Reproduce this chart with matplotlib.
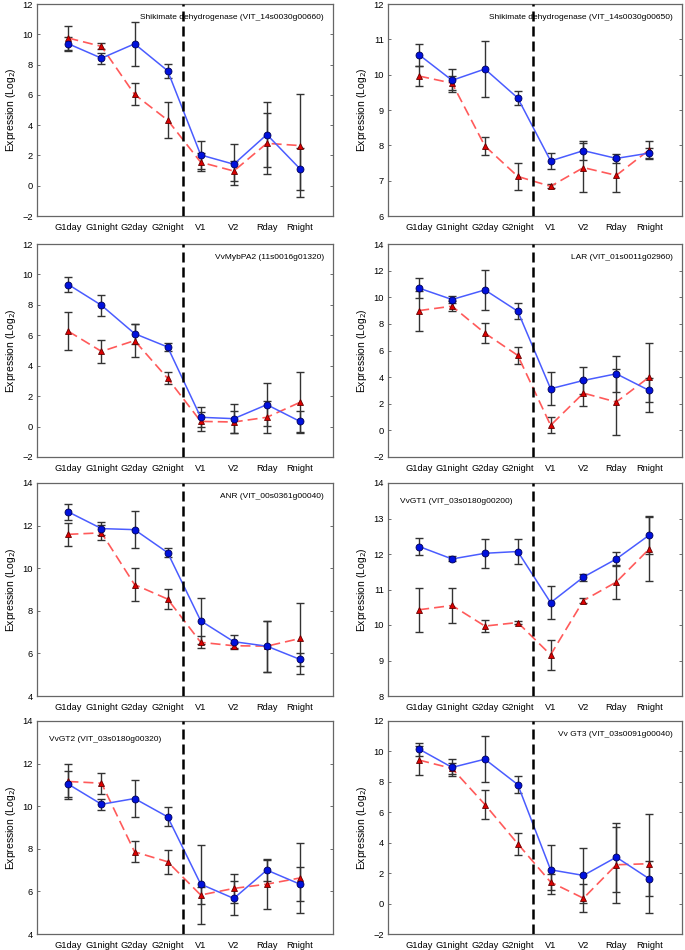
import matplotlib
matplotlib.use("Agg")
import matplotlib.pyplot as plt

plt.rcParams['font.family'] = ['Liberation Sans', 'DejaVu Sans']

categories = ["G1day", "G1night", "G2day", "G2night", "V1", "V2", "Rday", "Rnight"]

# Panel 1: Shikimate dehydrogenase (VIT_14s0030g00660)
p1_title = "Shikimate dehydrogenase (VIT_14s0030g00660)"
p1_blue = [9.37, 8.42, 9.37, 7.59, 2.03, 1.42, 3.38, 1.12]
p1_blue_err = [0.45, 0.35, 1.46, 0.46, 0.9, 1.35, 2.15, 1.4]
p1_red = [9.75, 9.2, 6.03, 4.33, 1.55, 0.97, 2.8, 2.65]
p1_red_err = [0.8, 0.2, 0.73, 1.18, 0.6, 0.65, 2.0, 3.4]
p1_ylim = (-2, 12)
p1_yticks = [-2, 0, 2, 4, 6, 8, 10, 12]

# Panel 2: Shikimate dehydrogenase (VIT_14s0030g00650)
p2_title = "Shikimate dehydrogenase (VIT_14s0030g00650)"
p2_blue = [10.56, 9.84, 10.16, 9.34, 7.56, 7.85, 7.63, 7.78]
p2_blue_err = [0.32, 0.33, 0.78, 0.19, 0.23, 0.27, 0.12, 0.15]
p2_red = [9.96, 9.76, 7.98, 7.12, 6.84, 7.37, 7.15, 7.87]
p2_red_err = [0.28, 0.2, 0.26, 0.39, 0.06, 0.7, 0.47, 0.25]
p2_ylim = (6, 12)
p2_yticks = [6, 7, 8, 9, 10, 11, 12]

# Panel 3: VvMybPA2 (11s0016g01320)
p3_title = "VvMybPA2 (11s0016g01320)"
p3_blue = [9.33, 7.97, 6.11, 5.23, 0.61, 0.52, 1.44, 0.34]
p3_blue_err = [0.5, 0.7, 0.65, 0.25, 0.65, 0.95, 1.4, 0.7]
p3_red = [6.26, 4.94, 5.65, 3.17, 0.34, 0.3, 0.61, 1.59]
p3_red_err = [1.24, 0.73, 1.1, 0.4, 0.6, 0.75, 1.05, 2.0]
p3_ylim = (-2, 12)
p3_yticks = [-2, 0, 2, 4, 6, 8, 10, 12]

# Panel 4: LAR (VIT_01s0011g02960)
p4_title = "LAR (VIT_01s0011g02960)"
p4_blue = [10.68, 9.83, 10.55, 8.95, 3.13, 3.75, 4.25, 3.0]
p4_blue_err = [0.77, 0.25, 1.5, 0.6, 1.23, 1.0, 1.35, 0.9]
p4_red = [9.0, 9.33, 7.3, 5.63, 0.38, 2.8, 2.13, 4.0]
p4_red_err = [1.5, 0.4, 0.75, 0.65, 0.6, 0.95, 2.45, 2.6]
p4_ylim = (-2, 14)
p4_yticks = [-2, 0, 2, 4, 6, 8, 10, 12, 14]

# Panel 5: ANR (VIT_00s0361g00040)
p5_title = "ANR (VIT_00s0361g00040)"
p5_blue = [12.64, 11.86, 11.81, 10.73, 7.53, 6.55, 6.34, 5.72]
p5_blue_err = [0.37, 0.3, 0.88, 0.2, 1.08, 0.3, 1.2, 0.3]
p5_red = [11.59, 11.66, 9.23, 8.55, 6.52, 6.36, 6.34, 6.7]
p5_red_err = [0.55, 0.35, 0.78, 0.47, 0.28, 0.15, 1.2, 1.68]
p5_ylim = (4, 14)
p5_yticks = [4, 6, 8, 10, 12, 14]

# Panel 6: VvGT1 (VIT_03s0180g00200)
p6_title = "VvGT1 (VIT_03s0180g00200)"
p6_blue = [12.21, 11.86, 12.02, 12.07, 10.63, 11.35, 11.86, 12.53]
p6_blue_err = [0.23, 0.07, 0.41, 0.36, 0.47, 0.1, 0.2, 0.53]
p6_red = [10.43, 10.55, 9.97, 10.07, 9.16, 10.69, 11.21, 12.14]
p6_red_err = [0.62, 0.48, 0.18, 0.03, 0.42, 0.06, 0.47, 0.9]
p6_ylim = (8, 14)
p6_yticks = [8, 9, 10, 11, 12, 13, 14]

# Panel 7: VvGT2 (VIT_03s0180g00320)
p7_title = "VvGT2 (VIT_03s0180g00320)"
p7_blue = [11.03, 10.09, 10.36, 9.5, 6.34, 5.67, 7.0, 6.34]
p7_blue_err = [0.6, 0.25, 0.89, 0.45, 1.85, 0.8, 0.53, 0.79]
p7_red = [11.16, 11.08, 7.86, 7.39, 5.83, 6.14, 6.34, 6.63]
p7_red_err = [0.8, 0.5, 0.5, 0.55, 0.4, 0.7, 1.15, 1.66]
p7_ylim = (4, 14)
p7_yticks = [4, 6, 8, 10, 12, 14]

# Panel 8: Vv GT3 (VIT_03s0091g00040)
p8_title = "Vv GT3 (VIT_03s0091g00040)"
p8_blue = [10.15, 8.95, 9.49, 7.82, 2.22, 1.85, 3.05, 1.63]
p8_blue_err = [0.43, 0.58, 1.5, 0.55, 1.6, 1.83, 2.27, 1.15]
p8_red = [9.43, 8.88, 6.51, 3.93, 1.41, 0.35, 2.55, 2.62]
p8_red_err = [0.95, 0.35, 0.97, 0.73, 0.55, 0.93, 2.5, 3.25]
p8_ylim = (-2, 12)
p8_yticks = [-2, 0, 2, 4, 6, 8, 10, 12]

panels = [
    (p1_title, p1_blue, p1_blue_err, p1_red, p1_red_err, p1_ylim, p1_yticks, "right"),
    (p2_title, p2_blue, p2_blue_err, p2_red, p2_red_err, p2_ylim, p2_yticks, "right"),
    (p3_title, p3_blue, p3_blue_err, p3_red, p3_red_err, p3_ylim, p3_yticks, "right"),
    (p4_title, p4_blue, p4_blue_err, p4_red, p4_red_err, p4_ylim, p4_yticks, "right"),
    (p5_title, p5_blue, p5_blue_err, p5_red, p5_red_err, p5_ylim, p5_yticks, "right"),
    (p6_title, p6_blue, p6_blue_err, p6_red, p6_red_err, p6_ylim, p6_yticks, "left"),
    (p7_title, p7_blue, p7_blue_err, p7_red, p7_red_err, p7_ylim, p7_yticks, "left"),
    (p8_title, p8_blue, p8_blue_err, p8_red, p8_red_err, p8_ylim, p8_yticks, "right"),
]

W, H = 685, 950
fig = plt.figure(figsize=(W / 100, H / 100), dpi=100)

col_lr = [(37, 333), (388, 682)]
row_tb = [(4, 216), (244, 457), (483, 696), (721, 934)]

x = list(range(1, len(categories) + 1))

for i, (title, bm, be, rm, re, ylim, yticks, align) in enumerate(panels):
    r, c = divmod(i, 2)
    l, rr = col_lr[c]
    t, b = row_tb[r]
    ax = fig.add_axes([l / W, 1 - b / H, (rr - l) / W, (b - t) / H])

    ax.errorbar(x, rm, yerr=re, fmt='none', ecolor='#333333', elinewidth=1.0,
                capsize=3, capthick=1.0, zorder=2)
    ax.errorbar(x, bm, yerr=be, fmt='none', ecolor='#333333', elinewidth=1.0,
                capsize=3, capthick=1.0, zorder=2)
    ax.plot(x, rm, color='#ff5a5a', linestyle=(0, (6, 3)), linewidth=1.2, zorder=3)
    ax.plot(x, rm, linestyle='none', marker='^', markersize=5,
            markerfacecolor='#dd0000', markeredgecolor='#660000',
            markeredgewidth=0.6, zorder=4)
    ax.plot(x, bm, color='#4a5cff', linestyle='-', linewidth=1.1, zorder=3)
    ax.plot(x, bm, linestyle='none', marker='o', markersize=5,
            markerfacecolor='#0011dd', markeredgecolor='#000055',
            markeredgewidth=0.6, zorder=5)

    ax.axvline(4.45, color='black', linestyle=(0, (4, 2)), linewidth=1.8, zorder=6)

    ax.set_xlim(0.05, 9.0)
    ax.set_ylim(*ylim)
    ax.set_yticks(yticks)
    ax.set_xticks(x)
    ax.set_xticklabels(categories)
    ax.tick_params(axis='both', labelsize=6.7, direction='in', length=2.5,
                   width=0.6, color='#555555', pad=3)
    ax.tick_params(axis='y', right=True)
    ax.tick_params(axis='x', length=0, pad=5)
    for s in ax.spines.values():
        s.set_color('#666666')
        s.set_linewidth(0.9)
    ax.set_ylabel("Expression (Log$_2$)", fontsize=7.5, labelpad=3)

    if align == "right":
        ax.text(0.97, 0.935, title, transform=ax.transAxes, ha='right', va='center',
                fontsize=6.0, zorder=7)
    else:
        ax.text(0.04, 0.915, title, transform=ax.transAxes, ha='left', va='center',
                fontsize=6.0, zorder=7)

fig.savefig("out.png", dpi=100)
